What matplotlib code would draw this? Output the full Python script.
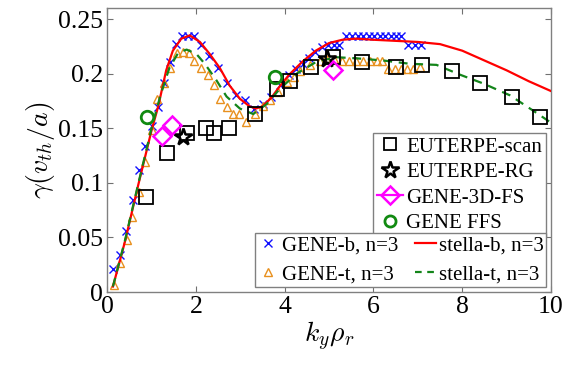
import matplotlib
matplotlib.use("Agg")
import matplotlib.pyplot as plt
from matplotlib.lines import Line2D
import numpy as np

# ---------------- data ----------------
gene_b_x = [0.13, 0.28, 0.43, 0.58, 0.72, 0.85, 1.00, 1.15, 1.28, 1.41, 1.54, 1.68, 1.82, 1.96,
            2.12, 2.30, 2.50, 2.69, 2.90, 3.10, 3.30, 3.50, 3.70, 3.90, 4.10, 4.25, 4.41, 4.55,
            4.68, 4.85, 4.98, 5.10, 5.22, 5.39, 5.51, 5.64, 5.76, 5.89, 6.01, 6.14, 6.26, 6.39,
            6.51, 6.63, 6.78, 6.93, 7.06]
gene_b_y = [0.021, 0.034, 0.056, 0.084, 0.112, 0.134, 0.152, 0.169, 0.191, 0.211, 0.227, 0.234,
            0.234, 0.234, 0.226, 0.216, 0.205, 0.191, 0.180, 0.176, 0.168, 0.172, 0.179, 0.190,
            0.199, 0.204, 0.209, 0.214, 0.220, 0.224, 0.226, 0.226, 0.226, 0.234, 0.234, 0.234,
            0.234, 0.234, 0.234, 0.234, 0.234, 0.234, 0.234, 0.234, 0.226, 0.226, 0.226]

gene_t_x = [0.15, 0.30, 0.44, 0.57, 0.71, 0.86, 1.00, 1.13, 1.27, 1.42, 1.58, 1.71, 1.84, 1.95,
            2.12, 2.27, 2.40, 2.54, 2.69, 2.84, 2.97, 3.12, 3.34, 3.50, 3.66, 3.85, 4.05, 4.20,
            4.34, 4.57, 4.79, 4.94, 5.10, 5.30, 5.45, 5.60, 5.77, 5.92, 6.07, 6.20, 6.33, 6.48,
            6.62, 6.76, 6.90, 7.05]
gene_t_y = [0.006, 0.027, 0.048, 0.069, 0.092, 0.119, 0.148, 0.177, 0.191, 0.205, 0.219, 0.220,
            0.219, 0.212, 0.205, 0.199, 0.190, 0.177, 0.169, 0.163, 0.163, 0.156, 0.163, 0.170,
            0.176, 0.183, 0.192, 0.197, 0.202, 0.208, 0.212, 0.214, 0.213, 0.212, 0.212, 0.212,
            0.212, 0.212, 0.212, 0.212, 0.204, 0.204, 0.204, 0.204, 0.204, 0.206]

stella_b_x = [0.13, 0.40, 0.70, 1.00, 1.15, 1.33, 1.48, 1.67, 1.86, 2.09, 2.31, 2.54, 2.76, 2.99,
              3.21, 3.35, 3.50, 3.70, 3.90, 4.10, 4.40, 4.70, 5.00, 5.30, 5.60, 6.00, 6.50, 7.00,
              7.50, 8.00, 8.50, 9.00, 9.50, 10.00]
stella_b_y = [0.005, 0.046, 0.098, 0.148, 0.170, 0.203, 0.221, 0.232, 0.235, 0.229, 0.218, 0.205,
              0.189, 0.177, 0.170, 0.168, 0.170, 0.178, 0.189, 0.199, 0.211, 0.221, 0.228, 0.231,
              0.232, 0.231, 0.230, 0.229, 0.227, 0.221, 0.212, 0.203, 0.193, 0.184]

stella_t_x = [0.13, 0.40, 0.70, 1.00, 1.20, 1.40, 1.60, 1.79, 2.01, 2.20, 2.46, 2.69, 2.99, 3.29,
              3.59, 3.89, 4.27, 4.72, 5.17, 5.62, 6.22, 6.82, 7.42, 7.95, 8.47, 9.08, 9.60, 10.00]
stella_t_y = [0.005, 0.047, 0.099, 0.150, 0.180, 0.205, 0.219, 0.222, 0.218, 0.209, 0.194, 0.179,
              0.168, 0.163, 0.172, 0.186, 0.200, 0.211, 0.215, 0.214, 0.212, 0.209, 0.208, 0.199,
              0.191, 0.180, 0.166, 0.155]

euterpe_scan_x = [0.87, 1.35, 1.79, 2.22, 2.40, 2.75, 3.34, 3.83, 4.12, 4.60, 5.09, 5.75, 6.51,
                  7.10, 7.78, 8.40, 9.11, 9.75]
euterpe_scan_y = [0.087, 0.127, 0.146, 0.150, 0.146, 0.150, 0.163, 0.186, 0.193, 0.206, 0.215,
                  0.211, 0.206, 0.208, 0.202, 0.191, 0.179, 0.160]

euterpe_rg_x = [1.70, 4.95]
euterpe_rg_y = [0.142, 0.213]

gene3d_x = [1.24, 1.45, 5.08]
gene3d_y = [0.143, 0.153, 0.203]

geneffs_x = [0.90, 3.78]
geneffs_y = [0.160, 0.197]

# ---------------- plot ----------------
plt.rcParams['font.family'] = ['Liberation Serif', 'DejaVu Serif']
plt.rcParams['mathtext.fontset'] = 'cm'

fig = plt.figure(figsize=(5.64, 3.68), dpi=100)
ax = fig.add_axes([0.190, 0.2065, 0.787, 0.7715])

c_blue = '#1010ff'
c_orange = '#e8901e'
c_red = '#ff0000'
c_green = '#13851a'
c_mag = '#ff00ff'
c_circ = '#118a11'

ax.plot(gene_b_x, gene_b_y, ls='none', marker='x', ms=5.5, mew=1.0, color=c_blue, zorder=3)
ax.plot(gene_t_x, gene_t_y, ls='none', marker='^', ms=5.5, mew=1.0, mfc='none', mec=c_orange, zorder=3)
ax.plot(stella_b_x, stella_b_y, '-', color=c_red, lw=1.6, zorder=4)
ax.plot(stella_t_x, stella_t_y, '--', color=c_green, lw=1.6, dashes=(4, 3), zorder=4)
ax.plot(euterpe_scan_x, euterpe_scan_y, ls='none', marker='s', ms=9.5, mew=1.3, mfc='none', mec='black', zorder=5)
ax.plot(euterpe_rg_x, euterpe_rg_y, ls='none', marker='*', ms=13, mew=1.8, mfc='none', mec='black', zorder=5)
ax.plot(gene3d_x, gene3d_y, ls='none', marker='D', ms=9, mew=1.8, mfc='none', mec=c_mag, zorder=5)
ax.plot(geneffs_x, geneffs_y, ls='none', marker='o', ms=9, mew=2.0, mfc='none', mec=c_circ, zorder=5)

ax.set_xlim(0, 10)
ax.set_ylim(0, 0.26)
ax.set_xticks([0, 2, 4, 6, 8, 10])
ax.set_yticks([0, 0.05, 0.1, 0.15, 0.2, 0.25])
ax.set_yticklabels(['0', '0.05', '0.1', '0.15', '0.2', '0.25'])
ax.tick_params(direction='in', top=True, right=True, length=4, width=0.8,
               color='#707070', labelsize=18.5, pad=3)
for s in ax.spines.values():
    s.set_color('#808080')
    s.set_linewidth(1.0)

ax.set_xlabel(r'$k_y\rho_r$', fontsize=20, labelpad=1)
ax.set_ylabel(r'$\gamma(v_{th}/a)$', fontsize=20, labelpad=1)

h1 = [Line2D([], [], ls='none', marker='s', ms=9, mew=1.3, mfc='none', mec='black'),
      Line2D([], [], ls='none', marker='*', ms=13, mew=1.8, mfc='none', mec='black'),
      Line2D([], [], ls='-', color=c_mag, lw=1.6, marker='D', ms=9, mew=1.8, mfc='none', mec=c_mag),
      Line2D([], [], ls='none', marker='o', ms=8, mew=2.0, mfc='none', mec=c_circ)]
l1 = ax.legend(h1, ['EUTERPE-scan', 'EUTERPE-RG', 'GENE-3D-FS', 'GENE FFS'],
               loc='upper right', bbox_to_anchor=(0.989, 0.56), fontsize=15,
               handlelength=1.25, handletextpad=0.15, labelspacing=0.28, borderpad=0.2,
               fancybox=False, framealpha=1, edgecolor='#808080', borderaxespad=0)
l1.get_frame().set_linewidth(1.0)
ax.add_artist(l1)

h2 = [Line2D([], [], ls='none', marker='x', ms=5.5, mew=1.0, color=c_blue),
      Line2D([], [], ls='none', marker='^', ms=5.5, mew=1.0, mfc='none', mec=c_orange),
      Line2D([], [], ls='-', color=c_red, lw=1.6),
      Line2D([], [], ls='--', color=c_green, lw=1.6, dashes=(3, 2.5))]
l2 = ax.legend(h2, ['GENE-b, n=3', 'GENE-t, n=3', 'stella-b, n=3', 'stella-t, n=3'],
               ncol=2, loc='lower right', bbox_to_anchor=(0.989, 0.018), fontsize=15,
               handlelength=1.0, handletextpad=0.15, labelspacing=0.45, borderpad=0.12,
               columnspacing=0.8, fancybox=False, framealpha=1, edgecolor='#808080',
               borderaxespad=0)
l2.get_frame().set_linewidth(1.0)

fig.savefig('out.png', dpi=100)
